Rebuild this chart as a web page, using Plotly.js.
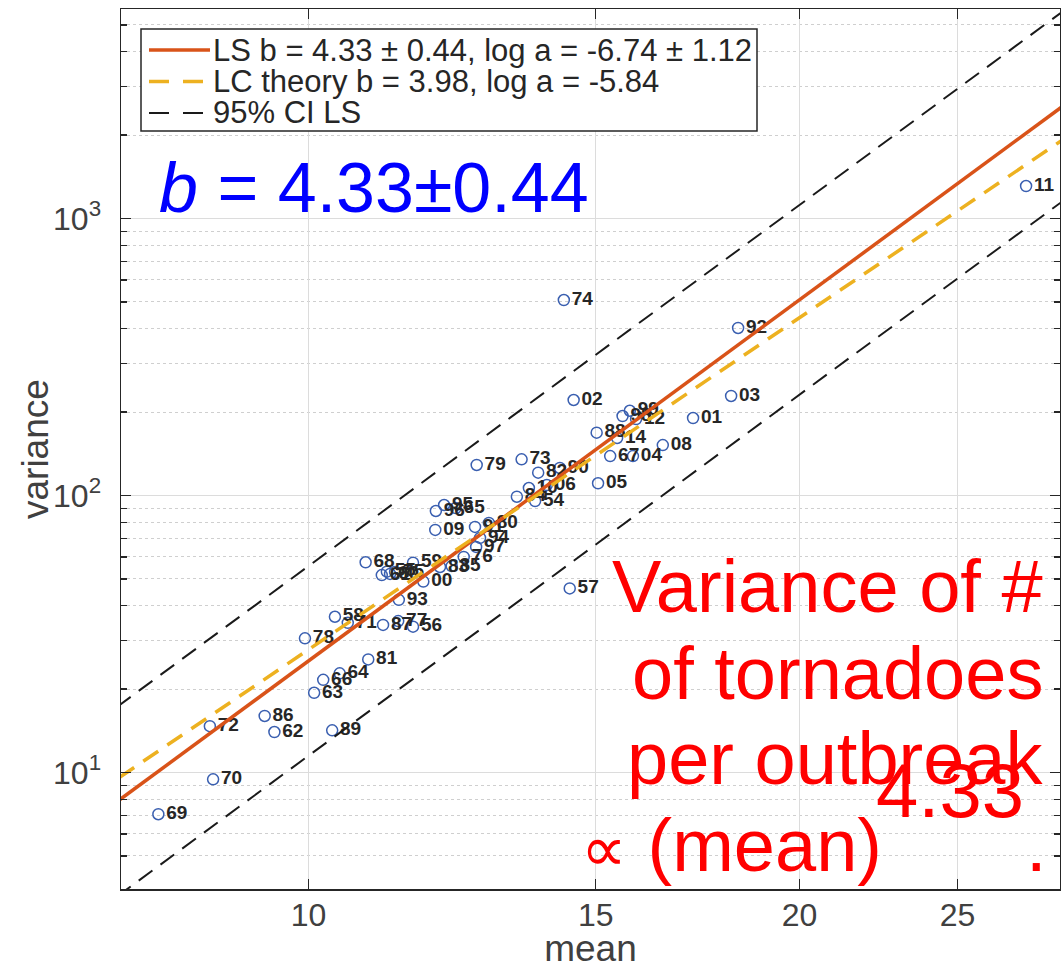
<!DOCTYPE html>
<html>
<head>
<meta charset="utf-8">
<script src="https://cdn.plot.ly/plotly-3.0.1.min.js"></script>
<style>html,body{margin:0;padding:0;background:#fff;}</style>
</head>
<body>
<div id="chart" style="width:1061px;height:969px;"></div>
<script>
// ---- data ----
const yearLabels = ['69','70','72','86','62','89','63','66','64','81','78','58','71','87','77','56','93','00','68','59','61','55','75','60','83','85','76','97','94','91','80','09','95','96','65','84','54','10','06','82','90','73','79','05','57','02','88','14','67','04','08','01','99','12','98','03','92','74','11'];
const meanValues = [8.09,8.74,8.70,9.40,9.53,10.34,10.08,10.21,10.45,10.88,9.95,10.38,10.57,11.11,11.35,11.59,11.36,11.76,10.84,11.59,11.09,11.17,11.30,11.22,12.04,12.24,12.45,12.67,12.74,12.65,12.90,11.96,12.11,11.97,12.31,13.42,13.77,13.65,14.00,13.83,14.26,13.51,12.68,15.05,14.46,14.54,15.02,15.46,15.31,15.81,16.49,17.21,15.74,15.88,15.58,18.16,18.34,14.34,27.54];
const varianceValues = [7.07,9.45,14.7,16.0,14.0,14.2,19.4,21.6,22.8,25.6,30.5,36.5,34.7,34.1,35.2,33.6,42.0,48.9,57.4,57.2,51.6,53.1,52.9,52.1,55.2,55.6,60.0,65.2,70.3,77.0,79.6,75.1,92.4,87.9,90.1,99.0,95.5,106.4,109.1,120.9,125.7,135.1,128.9,110.7,46.2,221.2,168.6,161.3,138.8,138.8,152.1,190.4,202.3,188.8,193.6,228.7,402.5,507.8,1310];

// fit parameters (natural log of a)
const lsB = 4.33, lsLogA = -6.74;
const lcB = 3.98, lcLogA = -5.84;
const ciFactor = 2.2;
const lineX = [7.4, 30];

const xTickVals = [10, 15, 20, 25];
const xTickText = ['10', '15', '20', '25'];
const yTickVals = [10, 100, 1000];
const yTickText = ['10<sup>1</sup>', '10<sup>2</sup>', '10<sup>3</sup>'];
const yMinorVals = [5,6,7,8,9,20,30,40,50,60,70,80,90,200,300,400,500,600,700,800,900,2000,3000,4000,5000];

const legendNames = ['LS b = 4.33 \u00b1 0.44, log a = -6.74 \u00b1 1.12', 'LC theory b = 3.98, log a = -5.84', '95% CI LS'];

// ---- build ----
const powerLaw = (lnA, b, f) => lineX.map(x => f * Math.exp(lnA + b * Math.log(x)));
const FONT = 'Liberation Sans, Arial, Helvetica, sans-serif';
const C_LS = '#D95319', C_LC = '#EDB120', C_CI = '#1a1a1a';
const DASH_LC = '18px,11px', DASH_CI = '17px,10px';

const traces = [
  {
    x: meanValues, y: varianceValues, text: yearLabels,
    type: 'scatter', mode: 'markers+text', textposition: 'middle right',
    marker: {symbol: 'circle-open', size: 11, color: '#3a5fb0', line: {width: 1.5, color: '#3a5fb0'}},
    textfont: {family: FONT, size: 19, color: '#262626', weight: 'bold'},
    cliponaxis: false, showlegend: false, name: 'years'
  },
  {x: lineX, y: powerLaw(lsLogA, lsB, 1), type: 'scatter', mode: 'lines', name: legendNames[0],
   line: {color: C_LS, width: 3.5}, showlegend: false},
  {x: lineX, y: powerLaw(lcLogA, lcB, 1), type: 'scatter', mode: 'lines', name: legendNames[1],
   line: {color: C_LC, width: 3.5, dash: DASH_LC}, showlegend: false},
  {x: lineX, y: powerLaw(lsLogA, lsB, ciFactor), type: 'scatter', mode: 'lines', name: legendNames[2],
   line: {color: C_CI, width: 2, dash: DASH_CI}, showlegend: false},
  {x: lineX, y: powerLaw(lsLogA, lsB, 1 / ciFactor), type: 'scatter', mode: 'lines', name: legendNames[2] + ' (lower)',
   line: {color: C_CI, width: 2, dash: DASH_CI}, showlegend: false}
];

// plot area in pixels: left 121, right 1060, top 9, bottom 889
const PL = 121, PR = 1060, PT = 9, PB = 889;
const px = v => (v - PL) / (PR - PL);
const py = v => (PB - v) / (PB - PT);

// manual legend
const legRows = [50, 81.5, 113];
const legStyles = [
  {color: C_LS, width: 3.5, dash: 'solid'},
  {color: C_LC, width: 3.5, dash: '20px,14px'},
  {color: C_CI, width: 2, dash: '20px,14px'}
];
const shapes = [{
  type: 'rect', xref: 'paper', yref: 'paper', layer: 'above',
  x0: px(141), x1: px(757), y0: py(131), y1: py(29),
  fillcolor: '#ffffff', line: {color: '#262626', width: 1.5}
}];
legRows.forEach((r, i) => {
  shapes.push({type: 'line', xref: 'paper', yref: 'paper', layer: 'above',
    x0: px(149), x1: px(210), y0: py(r), y1: py(r), line: legStyles[i]});
});
const annotations = legRows.map((r, i) => ({
  xref: 'paper', yref: 'paper', x: px(211), y: py(r), xanchor: 'left', yanchor: 'middle',
  text: legendNames[i], showarrow: false, font: {family: FONT, size: 31, color: '#262626'}
}));

// y-axis title placed precisely
annotations.push({
  xref: 'paper', yref: 'paper', x: px(35), y: py(449), xanchor: 'center', yanchor: 'middle', textangle: -90,
  text: 'variance', showarrow: false, font: {family: FONT, size: 37, color: '#404040'}
});

annotations.push({
  xref: 'paper', yref: 'paper', x: px(157), y: py(188), xanchor: 'left', yanchor: 'middle',
  text: '<i>b</i> = 4.33\u00b10.44', showarrow: false, font: {family: FONT, size: 70, color: '#0000ff'}
});
const redFont = {family: FONT, size: 74, color: '#ff0000'};
[['Variance of #', 587], ['of tornadoes', 673], ['per outbreak', 758]].forEach(([t, y]) => {
  annotations.push({xref: 'paper', yref: 'paper', x: px(1045), y: py(y), xanchor: 'right', yanchor: 'middle',
    text: t, showarrow: false, font: redFont});
});
annotations.push({xref: 'paper', yref: 'paper', x: px(884), y: py(845), xanchor: 'right', yanchor: 'middle',
  text: '<span style="font-size:64px">\u221d</span> (mean)', showarrow: false, font: redFont});
annotations.push({xref: 'paper', yref: 'paper', x: px(874), y: py(790), xanchor: 'left', yanchor: 'middle',
  text: '4.33', showarrow: false, font: {family: FONT, size: 76, color: '#ff0000'}});
annotations.push({xref: 'paper', yref: 'paper', x: px(1024), y: py(845), xanchor: 'left', yanchor: 'middle',
  text: '.', showarrow: false, font: redFont});

const axisCommon = {
  type: 'log', showline: true, linecolor: '#262626', linewidth: 1.5, mirror: 'allticks',
  ticks: 'inside', ticklen: 10, tickwidth: 1.3, tickcolor: '#262626',
  showgrid: true, gridcolor: '#dcdcdc', gridwidth: 1, zeroline: false,
  tickmode: 'array', tickfont: {family: FONT, size: 32, color: '#404040'}
};

const layout = {
  width: 1061, height: 969,
  margin: {l: PL, r: 1061 - PR, t: PT, b: 969 - PB},
  paper_bgcolor: '#ffffff', plot_bgcolor: '#ffffff',
  showlegend: false,
  xaxis: Object.assign({}, axisCommon, {
    range: [0.88504, 1.46076], tickvals: xTickVals, ticktext: xTickText, ticklabelstandoff: -3,
    title: {text: 'mean', font: {family: FONT, size: 37, color: '#404040'}, standoff: 16}
  }),
  yaxis: Object.assign({}, axisCommon, {
    range: [0.57942, 3.75632], tickvals: yTickVals, ticktext: yTickText, ticklabelstandoff: 12,
    minor: {tickmode: 'array', tickvals: yMinorVals, ticks: 'inside', ticklen: 6, tickcolor: '#262626',
            showgrid: true, gridcolor: '#cfcfcf', griddash: 'dot', gridwidth: 1}
  }),
  shapes: shapes,
  annotations: annotations
};

Plotly.newPlot('chart', traces, layout, {displayModeBar: false, staticPlot: true});
</script>
</body>
</html>
